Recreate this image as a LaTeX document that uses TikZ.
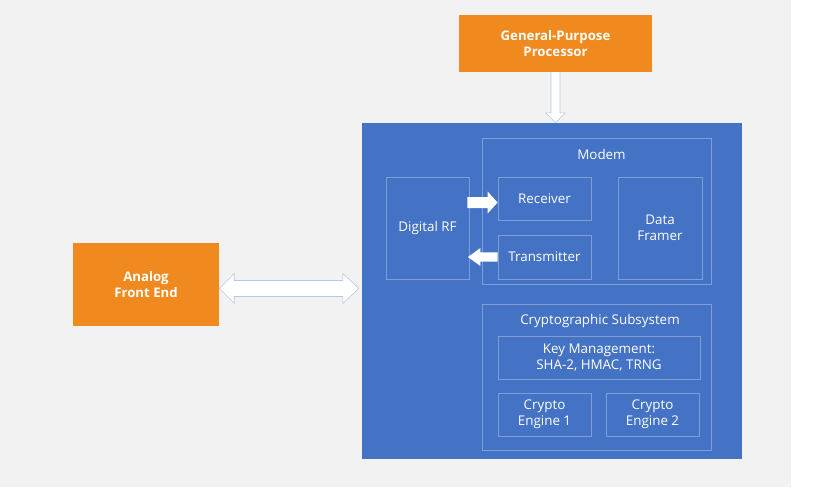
\documentclass[tikz,border=0pt]{standalone}
\usepackage{fontspec}
\setmainfont{Open Sans}
\usepackage{xcolor}
\usetikzlibrary{positioning,calc}

\definecolor{bgGray}{HTML}{F2F2F2}
\definecolor{procOrange}{HTML}{F0891E}
\definecolor{socBlue}{HTML}{4472C4}
\definecolor{edgeBlue}{RGB}{128,158,214}
\definecolor{arrowEdge}{HTML}{B4C7E7}

\tikzset{
    ext/.style={fill=procOrange, text=white, font=\bfseries\fontsize{13.2}{15.5}\selectfont, align=center, inner sep=0pt},
    blk/.style={draw=edgeBlue, line width=0.8pt, text=white, font=\fontsize{13.4}{16}\selectfont, align=center, inner sep=0pt},
    grouplabel/.style={text=white, font=\fontsize{13.4}{16}\selectfont, anchor=base, inner sep=0pt},
    hollowarrow/.style={fill=white, draw=arrowEdge, line width=0.6pt, line join=miter}
}

\begin{document}
\begin{tikzpicture}[x=1pt,y=-1pt]
    % Canvas
    \fill[white] (0,0) rectangle (813,487);
    \fill[bgGray] (0,0) rectangle (791,487);
    \useasboundingbox (0,0) rectangle (813,487);

    % External blocks
    \node[ext, minimum width=193pt, minimum height=57pt] (gpp) at (555.5,43.5) {General-Purpose\\Processor};
    \node[ext, minimum width=146pt, minimum height=83pt] (afe) at (146,284.5) {Analog\\Front End};

    % SoC
    \node[fill=socBlue, minimum width=380pt, minimum height=336pt, inner sep=0pt] (soc) at (552,291) {};

    % Modem group
    \node[blk, minimum width=229pt, minimum height=146pt] (modem) at (596.5,211) {};
    \node[grouplabel] (modemlbl) at ($(modem.north)+(5,22)$) {Modem};
    \node[blk, minimum width=83pt, minimum height=102pt] (drf) at (427.5,228) {Digital RF};
    \node[blk, minimum width=93pt, minimum height=43pt] (rx) at (544.5,198.5) {Receiver};
    \node[blk, minimum width=93pt, minimum height=44pt] (tx) at (544.5,257) {Transmitter};
    \node[blk, minimum width=84pt, minimum height=102pt] (df) at (660,228) {Data\\Framer};

    % Crypto group
    \node[blk, minimum width=229pt, minimum height=146pt] (crypto) at (596.5,377) {};
    \node[grouplabel] (cryptolbl) at ($(crypto.north)+(3.5,21)$) {Cryptographic Subsystem};
    \node[blk, minimum width=202pt, minimum height=43pt] (keym) at (599,357.5) {Key Management:\\SHA-2, HMAC, TRNG};
    \node[blk, minimum width=93pt, minimum height=43pt] (ce1) at (544.5,414.5) {Crypto\\Engine 1};
    \node[blk, minimum width=93pt, minimum height=43pt] (ce2) at (652.5,414.5) {Crypto\\Engine 2};

    % Digital RF -> Receiver
    \coordinate (rxtip) at ([yshift=-4pt]rx.west);
    \coordinate (rxtail) at (drf.east |- rxtip);
    \fill[white] ($(rxtail)+(-2,-5.5)$) -- ($(rxtip)+(-10,-5.5)$) -- ($(rxtip)+(-10,-11)$) -- (rxtip)
        -- ($(rxtip)+(-10,11)$) -- ($(rxtip)+(-10,5.5)$) -- ($(rxtail)+(-2,5.5)$) -- cycle;

    % Transmitter -> Digital RF
    \coordinate (txtip) at (drf.east |- tx.west);
    \fill[white] ($(tx.west)+(0,-4.7)$) -- ($(txtip)+(11,-4.7)$) -- ($(txtip)+(11,-9)$) -- ($(txtip)+(-1.5,0)$)
        -- ($(txtip)+(11,9)$) -- ($(txtip)+(11,4.7)$) -- ($(tx.west)+(0,4.7)$) -- cycle;

    % Processor -> SoC
    \coordinate (cputip) at (gpp.south |- soc.north);
    \filldraw[hollowarrow] ($(gpp.south)+(-4.5,0)$) -- ($(cputip)+(-4.5,-10)$) -- ($(cputip)+(-10,-10)$) -- (cputip)
        -- ($(cputip)+(10,-10)$) -- ($(cputip)+(4.5,-10)$) -- ($(gpp.south)+(4.5,0)$);

    % Analog Front End <-> SoC
    \coordinate (afeR) at ([yshift=-4pt]afe.east);
    \coordinate (socL) at (soc.west |- afeR);
    \filldraw[hollowarrow] (afeR) -- ($(afeR)+(15,-15)$) -- ($(afeR)+(15,-8)$) -- ($(socL)+(-19,-8)$)
        -- ($(socL)+(-19,-15)$) -- ($(socL)+(-3,0)$) -- ($(socL)+(-19,15)$) -- ($(socL)+(-19,8)$)
        -- ($(afeR)+(15,8)$) -- ($(afeR)+(15,15)$) -- cycle;
\end{tikzpicture}
\end{document}
